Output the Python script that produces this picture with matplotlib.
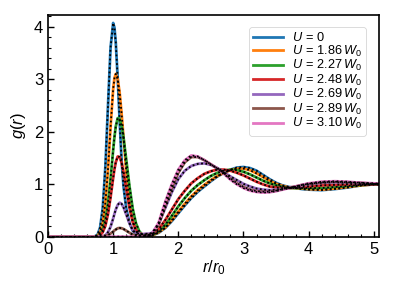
import numpy as np
import matplotlib
matplotlib.use("Agg")
import matplotlib.pyplot as plt
from matplotlib.ticker import MultipleLocator

plt.rcParams['font.family'] = ['Liberation Sans', 'DejaVu Sans']
plt.rcParams['mathtext.fontset'] = 'custom'
plt.rcParams['mathtext.rm'] = 'Liberation Sans'
plt.rcParams['mathtext.it'] = 'Liberation Sans:italic'

# r / r0 sample points
r = [0, 0.7, 0.76, 0.80, 0.84, 0.88, 0.92, 0.96, 1.00, 1.02,
     1.04, 1.07, 1.10, 1.13, 1.16, 1.20, 1.25, 1.30, 1.35, 1.40,
     1.45, 1.50, 1.55, 1.60, 1.70, 1.80, 1.90, 2.00, 2.10, 2.20,
     2.30, 2.40, 2.50, 2.60, 2.70, 2.80, 2.90, 3.00, 3.10, 3.20,
     3.30, 3.40, 3.50, 3.60, 3.70, 3.80, 3.90, 4.00, 4.20, 4.40,
     4.60, 4.80, 5.00, 5.10]

g_u0 = [0, 0, 0.04, 0.18, 0.55, 1.32, 2.47, 3.60, 4.07, 3.98,
        3.70, 3.02, 2.20, 1.44, 0.95, 0.55, 0.27, 0.12, 0.05, 0.02,
        0.01, 0.005, 0.01, 0.03, 0.08, 0.17, 0.30, 0.45, 0.60, 0.74,
        0.86, 0.96, 1.06, 1.15, 1.22, 1.28, 1.32, 1.33, 1.31, 1.26,
        1.18, 1.10, 1.03, 0.98, 0.95, 0.93, 0.91, 0.90, 0.89, 0.91,
        0.94, 0.98, 1.00, 1.00]
g_186 = [0, 0, 0.02, 0.09, 0.26, 0.64, 1.27, 2.09, 2.81, 3.02,
         3.10, 3.00, 2.74, 2.34, 1.88, 1.27, 0.67, 0.30, 0.11, 0.035,
         0.01, 0.005, 0.01, 0.03, 0.09, 0.18, 0.32, 0.48, 0.63, 0.77,
         0.89, 0.99, 1.08, 1.16, 1.22, 1.27, 1.30, 1.30, 1.27, 1.21,
         1.14, 1.07, 1.01, 0.97, 0.94, 0.93, 0.92, 0.91, 0.90, 0.92,
         0.95, 0.98, 1.00, 1.00]
g_227 = [0, 0, 0.014, 0.045, 0.13, 0.31, 0.63, 1.10, 1.65, 1.90,
         2.10, 2.26, 2.24, 2.11, 1.88, 1.48, 0.97, 0.54, 0.26, 0.11,
         0.04, 0.02, 0.02, 0.04, 0.11, 0.23, 0.40, 0.58, 0.74, 0.88,
         0.99, 1.08, 1.16, 1.22, 1.26, 1.28, 1.27, 1.24, 1.19, 1.13,
         1.07, 1.02, 0.98, 0.95, 0.93, 0.93, 0.93, 0.93, 0.93, 0.95,
         0.97, 0.99, 1.00, 1.00]
g_248 = [0, 0, 0.01, 0.03, 0.09, 0.21, 0.43, 0.75, 1.12, 1.29,
         1.42, 1.53, 1.52, 1.41, 1.23, 0.93, 0.56, 0.29, 0.13, 0.07,
         0.05, 0.05, 0.05, 0.06, 0.15, 0.32, 0.52, 0.72, 0.88, 1.02,
         1.12, 1.20, 1.25, 1.28, 1.28, 1.26, 1.22, 1.17, 1.11, 1.05,
         1.00, 0.96, 0.94, 0.93, 0.93, 0.94, 0.95, 0.96, 0.98, 0.99,
         1.00, 1.00, 1.00, 1.00]
g_269 = [0, 0, 0, 0.01, 0.01, 0.03, 0.09, 0.19, 0.35, 0.44,
         0.52, 0.61, 0.65, 0.63, 0.56, 0.43, 0.26, 0.13, 0.08, 0.06,
         0.05, 0.06, 0.06, 0.08, 0.25, 0.55, 0.85, 1.10, 1.26, 1.35,
         1.39, 1.40, 1.37, 1.31, 1.23, 1.15, 1.08, 1.01, 0.96, 0.92,
         0.90, 0.89, 0.90, 0.91, 0.93, 0.95, 0.98, 1.00, 1.03, 1.04,
         1.03, 1.02, 1.01, 1.01]
g_289 = [0, 0, 0, 0, 0.01, 0.02, 0.035, 0.065, 0.10, 0.125,
         0.14, 0.165, 0.17, 0.165, 0.15, 0.12, 0.08, 0.045, 0.03, 0.02,
         0.02, 0.03, 0.04, 0.05, 0.24, 0.60, 0.93, 1.22, 1.42, 1.52,
         1.52, 1.46, 1.38, 1.30, 1.21, 1.11, 1.02, 0.95, 0.90, 0.87,
         0.86, 0.86, 0.88, 0.91, 0.94, 0.96, 0.99, 1.01, 1.04, 1.05,
         1.04, 1.03, 1.01, 1.01]
g_310 = [0, 0, 0, 0, 0, 0, 0, 0.005, 0.005, 0.005,
         0.005, 0.005, 0.005, 0.005, 0.005, 0.005, 0.005, 0.005, 0.005, 0.005,
         0.005, 0.01, 0.03, 0.06, 0.28, 0.67, 1.00, 1.28, 1.46, 1.55,
         1.53, 1.46, 1.38, 1.30, 1.20, 1.09, 1.00, 0.93, 0.88, 0.855,
         0.845, 0.85, 0.87, 0.90, 0.93, 0.96, 0.99, 1.02, 1.05, 1.06,
         1.05, 1.03, 1.02, 1.01]

labels = [r'$U\,{=}\,0$', r'$U\,{=}\,1.86\,W_0$', r'$U\,{=}\,2.27\,W_0$', r'$U\,{=}\,2.48\,W_0$',
          r'$U\,{=}\,2.69\,W_0$', r'$U\,{=}\,2.89\,W_0$', r'$U\,{=}\,3.10\,W_0$']
series = [g_u0, g_186, g_227, g_248, g_269, g_289, g_310]
colors = ['#1f77b4', '#ff7f0e', '#2ca02c', '#d62728', '#9467bd', '#8c564b', '#e377c2']

fig = plt.figure(figsize=(3.95, 2.9), dpi=100)
ax = fig.add_axes([0.1215, 0.183, 0.838, 0.765])

for g, c, lab in zip(series, colors, labels):
    ax.plot(r, g, color=c, lw=2.0, label=lab, zorder=2)
for g in series:
    ax.plot(r, g, color='black', lw=1.3, linestyle=(0, (1, 1.4)), zorder=3)

ax.set_xlim(0, 5.08)
ax.set_ylim(0, 4.22)
ax.xaxis.set_major_locator(MultipleLocator(1))
ax.xaxis.set_minor_locator(MultipleLocator(0.2))
ax.yaxis.set_major_locator(MultipleLocator(1))
ax.yaxis.set_minor_locator(MultipleLocator(0.2))
ax.tick_params(which='both', direction='in', labelsize=12)
ax.tick_params(which='major', length=4, width=1)
ax.tick_params(which='minor', length=2, width=0.8)
for s in ax.spines.values():
    s.set_linewidth(1.2)

ax.set_xlabel(r'$r/r_0$', fontsize=12, labelpad=1)
ax.set_ylabel(r'$g(r)$', fontsize=12, labelpad=4)

leg = ax.legend(loc='upper right', fontsize=9.2, handlelength=2.3, labelspacing=-0.05,
                handletextpad=0.7, borderpad=0.35, frameon=True, fancybox=True,
                bbox_to_anchor=(0.98, 0.975))
leg.get_frame().set_linewidth(0.6)

fig.savefig('out.png', dpi=100)
